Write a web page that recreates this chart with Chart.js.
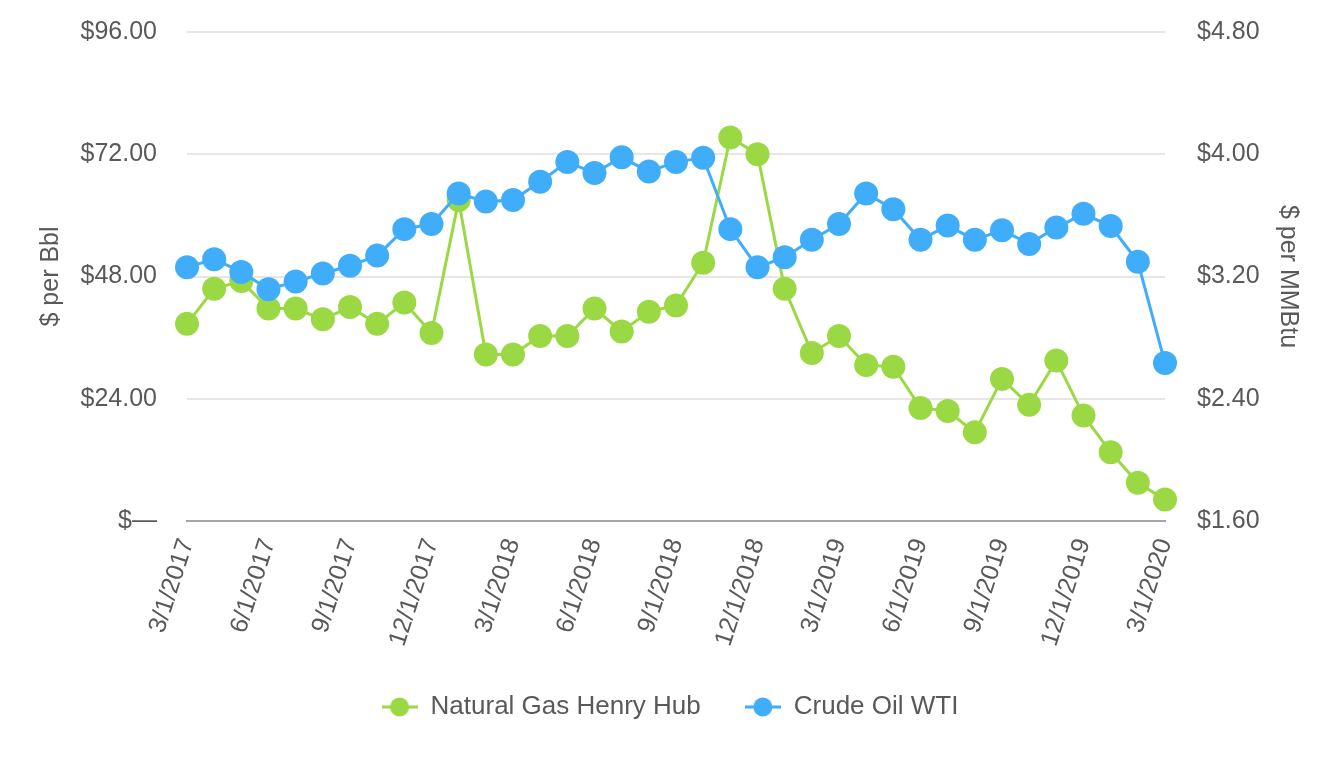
<!DOCTYPE html>
<html>
<head>
<meta charset="utf-8">
<script src="https://cdn.jsdelivr.net/npm/chart.js@4.4.0/dist/chart.umd.min.js"></script>
<style>
    html, body { margin: 0; padding: 0; background: #ffffff; }
    #wrap { width: 1340px; height: 760px; }
</style>
</head>
<body>
<div id="wrap"><canvas id="priceChart" width="1340" height="760"></canvas></div>
<script>
// === Data ===
var months = [
    '3/1/2017', '4/1/2017', '5/1/2017', '6/1/2017', '7/1/2017', '8/1/2017',
    '9/1/2017', '10/1/2017', '11/1/2017', '12/1/2017', '1/1/2018', '2/1/2018',
    '3/1/2018', '4/1/2018', '5/1/2018', '6/1/2018', '7/1/2018', '8/1/2018',
    '9/1/2018', '10/1/2018', '11/1/2018', '12/1/2018', '1/1/2019', '2/1/2019',
    '3/1/2019', '4/1/2019', '5/1/2019', '6/1/2019', '7/1/2019', '8/1/2019',
    '9/1/2019', '10/1/2019', '11/1/2019', '12/1/2019', '1/1/2020', '2/1/2020',
    '3/1/2020'
];

// $ per MMBtu (right axis)
var naturalGas = [
    2.89, 3.12, 3.17, 2.99, 2.99, 2.92, 3.00, 2.89, 3.03, 2.83, 3.70, 2.69,
    2.69, 2.81, 2.81, 2.99, 2.84, 2.97, 3.01, 3.29, 4.11, 4.00, 3.12, 2.70,
    2.81, 2.62, 2.61, 2.34, 2.32, 2.18, 2.53, 2.36, 2.65, 2.29, 2.05, 1.85,
    1.74
];

// $ per Bbl (left axis)
var crudeOil = [
    49.8, 51.4, 48.9, 45.5, 47.0, 48.6, 50.1, 52.1, 57.3, 58.3, 64.3, 62.7,
    63.0, 66.6, 70.5, 68.3, 71.4, 68.6, 70.5, 71.3, 57.3, 49.8, 51.8, 55.2,
    58.3, 64.3, 61.2, 55.2, 58.0, 55.2, 57.1, 54.4, 57.6, 60.3, 57.9, 50.9,
    31.0
];

var seriesNames = ['Natural Gas Henry Hub', 'Crude Oil WTI'];
var seriesColors = ['#9bd944', '#40adfb'];

var bblTicks = { min: 0, max: 96, step: 24 };
var mmbtuTicks = { min: 1.6, max: 4.8, step: 0.8 };

var textColor = '#595959';
var fontFamily = '"Liberation Sans", Arial, Helvetica, sans-serif';

// legend symbol: short line with a dot in the middle
function legendIcon(color) {
    var c = document.createElement('canvas');
    c.width = 36;
    c.height = 22;
    var g = c.getContext('2d');
    g.strokeStyle = color;
    g.lineWidth = 3;
    g.beginPath();
    g.moveTo(0, 11);
    g.lineTo(36, 11);
    g.stroke();
    g.fillStyle = color;
    g.beginPath();
    g.arc(18, 11, 9.5, 0, Math.PI * 2);
    g.fill();
    return c;
}
var icons = seriesColors.map(legendIcon);

function money(v, digits) {
    return '$' + Number(v).toFixed(digits);
}

// y axes: fixed width, no extra top/bottom padding from tick labels
function fixWidth(w) {
    return function(scale) {
        scale.width = w;
        scale.paddingTop = 0;
        scale.paddingBottom = 0;
    };
}

var ctx = document.getElementById('priceChart').getContext('2d');
new Chart(ctx, {
    type: 'line',
    data: {
        labels: months,
        datasets: [{
            label: seriesNames[0],
            data: naturalGas,
            yAxisID: 'y1',
            borderColor: seriesColors[0],
            backgroundColor: seriesColors[0],
            borderWidth: 3,
            pointRadius: 12,
            pointBorderWidth: 0,
            pointBackgroundColor: seriesColors[0],
            tension: 0,
            order: 1
        }, {
            label: seriesNames[1],
            data: crudeOil,
            yAxisID: 'y',
            borderColor: seriesColors[1],
            backgroundColor: seriesColors[1],
            borderWidth: 3,
            pointRadius: 12,
            pointBorderWidth: 0,
            pointBackgroundColor: seriesColors[1],
            tension: 0,
            order: 0
        }]
    },
    options: {
        responsive: false,
        animation: false,
        layout: { padding: { top: 32, bottom: 30, left: 0, right: 0 } },
        plugins: {
            tooltip: { enabled: false },
            legend: {
                position: 'bottom',
                labels: {
                    usePointStyle: true,
                    pointStyleWidth: 36,
                    padding: 44,
                    color: textColor,
                    font: { size: 26, family: fontFamily },
                    generateLabels: function(chart) {
                        return chart.data.datasets.map(function(ds, i) {
                            return {
                                text: ds.label,
                                pointStyle: icons[i],
                                fillStyle: ds.borderColor,
                                strokeStyle: ds.borderColor,
                                lineWidth: 0,
                                fontColor: textColor,
                                hidden: false,
                                datasetIndex: i
                            };
                        });
                    }
                }
            }
        },
        scales: {
            x: {
                offset: false,
                grid: { display: false, drawTicks: false },
                border: { display: true, color: '#a6a6a6', width: 2 },
                ticks: {
                    autoSkip: false,
                    minRotation: 72,
                    maxRotation: 72,
                    padding: 14,
                    color: textColor,
                    font: { size: 25, family: fontFamily },
                    callback: function(v, i) {
                        return i % 3 === 0 ? this.getLabelForValue(v) : '';
                    }
                },
                afterFit: function(scale) { scale.height = 129; }
            },
            y: {
                position: 'left',
                min: bblTicks.min,
                max: bblTicks.max,
                grid: { color: '#e6e6e6', lineWidth: 2, drawTicks: false },
                border: { display: false },
                ticks: {
                    stepSize: bblTicks.step,
                    padding: 30,
                    color: textColor,
                    font: { size: 25, family: fontFamily },
                    callback: function(v) { return v === 0 ? '$\u2014' : money(v, 2); }
                },
                title: {
                    display: true,
                    text: '$ per Bbl',
                    color: textColor,
                    font: { size: 25, family: fontFamily },
                    padding: { top: 36, bottom: 0 }
                },
                afterFit: fixWidth(187)
            },
            y1: {
                position: 'right',
                min: mmbtuTicks.min,
                max: mmbtuTicks.max,
                grid: { display: false, drawTicks: false },
                border: { display: false },
                ticks: {
                    stepSize: mmbtuTicks.step,
                    padding: 32,
                    color: textColor,
                    font: { size: 25, family: fontFamily },
                    callback: function(v) { return money(v, 2); }
                },
                title: {
                    display: true,
                    text: '$ per MMBtu',
                    color: textColor,
                    font: { size: 25, family: fontFamily },
                    padding: { top: 37, bottom: 0 }
                },
                afterFit: fixWidth(175)
            }
        }
    }
});
</script>
</body>
</html>
